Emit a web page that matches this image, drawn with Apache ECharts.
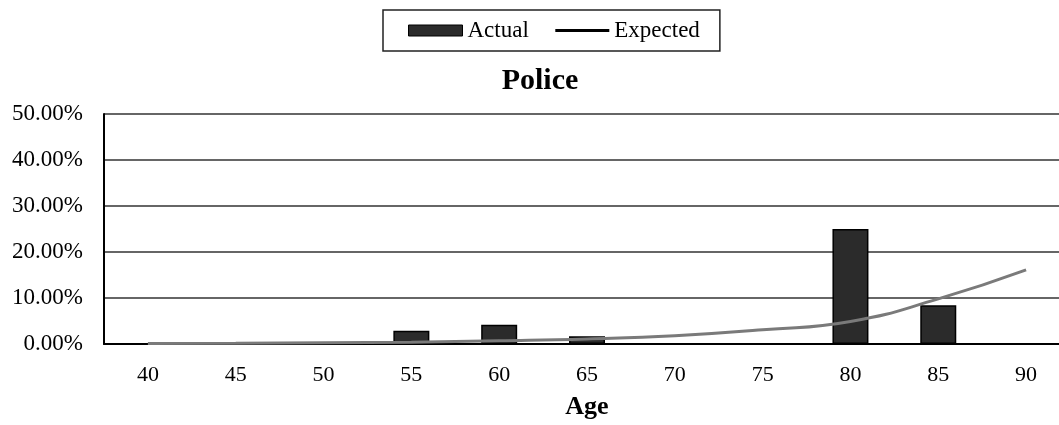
<!DOCTYPE html>
<html>
<head>
<meta charset="utf-8">
<script src="https://cdn.jsdelivr.net/npm/echarts@6/dist/echarts.min.js"></script>
<style>
  html, body { margin: 0; padding: 0; background: #fff; overflow: hidden; }
  /* the plot area runs slightly past the right edge of the window */
  #chart { width: 1070px; height: 425px; }
</style>
</head>
<body>
<div id="chart"></div>
<script>
// Age groups on the horizontal axis
const ages = ['40', '45', '50', '55', '60', '65', '70', '75', '80', '85', '90'];
// Observed share per age (percent)
const actual = [0, 0, 0, 2.9, 4.2, 1.7, 0, 0, 25.0, 8.4, 0];
// Expected share per age (percent)
const expected = [0.1, 0.15, 0.25, 0.4, 0.7, 1.1, 1.8, 3.1, 4.9, 9.8, 16.1];
// Vertical axis range (percent)
const yMin = 0, yMax = 50, yStep = 10;

const serif = 'Liberation Serif, Times New Roman, serif';
const chart = echarts.init(document.getElementById('chart'));

chart.setOption({
  animation: false,
  backgroundColor: '#fff',
  title: {
    text: 'Police',
    left: 535,
    textAlign: 'center',
    top: 61,
    textStyle: { fontFamily: serif, fontSize: 30, fontWeight: 'bold', color: '#000' }
  },
  legend: {
    left: 383,
    top: 10,
    padding: [9, 20, 9, 25],
    itemGap: 25,
    itemWidth: 54,
    itemHeight: 11,
    borderColor: '#222',
    borderWidth: 1.5,
    textStyle: { fontFamily: serif, fontSize: 23, color: '#000' },
    data: [
      { name: 'Actual', icon: 'rect', itemStyle: { color: '#2b2b2b', borderColor: '#000', borderWidth: 1 } },
      { name: 'Expected', itemStyle: { opacity: 0 }, lineStyle: { color: '#000', width: 3 } }
    ]
  },
  grid: { left: 104, top: 114, width: 966, height: 234, containLabel: false },
  xAxis: {
    type: 'category',
    data: ages,
    name: 'Age',
    nameLocation: 'middle',
    nameGap: 50,
    nameTextStyle: { fontFamily: serif, fontSize: 26, fontWeight: 'bold', color: '#000' },
    axisLine: { lineStyle: { color: '#000', width: 2 } },
    axisTick: { show: false },
    axisLabel: { margin: 20, fontFamily: serif, fontSize: 22, color: '#000' }
  },
  yAxis: {
    type: 'value',
    min: yMin,
    max: yMax,
    interval: yStep,
    axisLine: { show: true, lineStyle: { color: '#000', width: 2 } },
    axisTick: { show: false },
    splitLine: { lineStyle: { color: '#333', width: 1.5 } },
    axisLabel: {
      margin: 21,
      fontFamily: serif,
      fontSize: 23,
      color: '#000',
      formatter: v => v.toFixed(2) + '%'
    }
  },
  series: [
    {
      name: 'Actual',
      type: 'bar',
      data: actual,
      barWidth: 36,
      itemStyle: { color: '#2b2b2b', borderColor: '#000', borderWidth: 1.5 },
      z: 2
    },
    {
      name: 'Expected',
      type: 'line',
      data: expected,
      smooth: true,
      symbol: 'none',
      lineStyle: { color: '#7a7a7a', width: 3 },
      itemStyle: { color: '#7a7a7a' },
      z: 3
    }
  ]
});
</script>
</body>
</html>
